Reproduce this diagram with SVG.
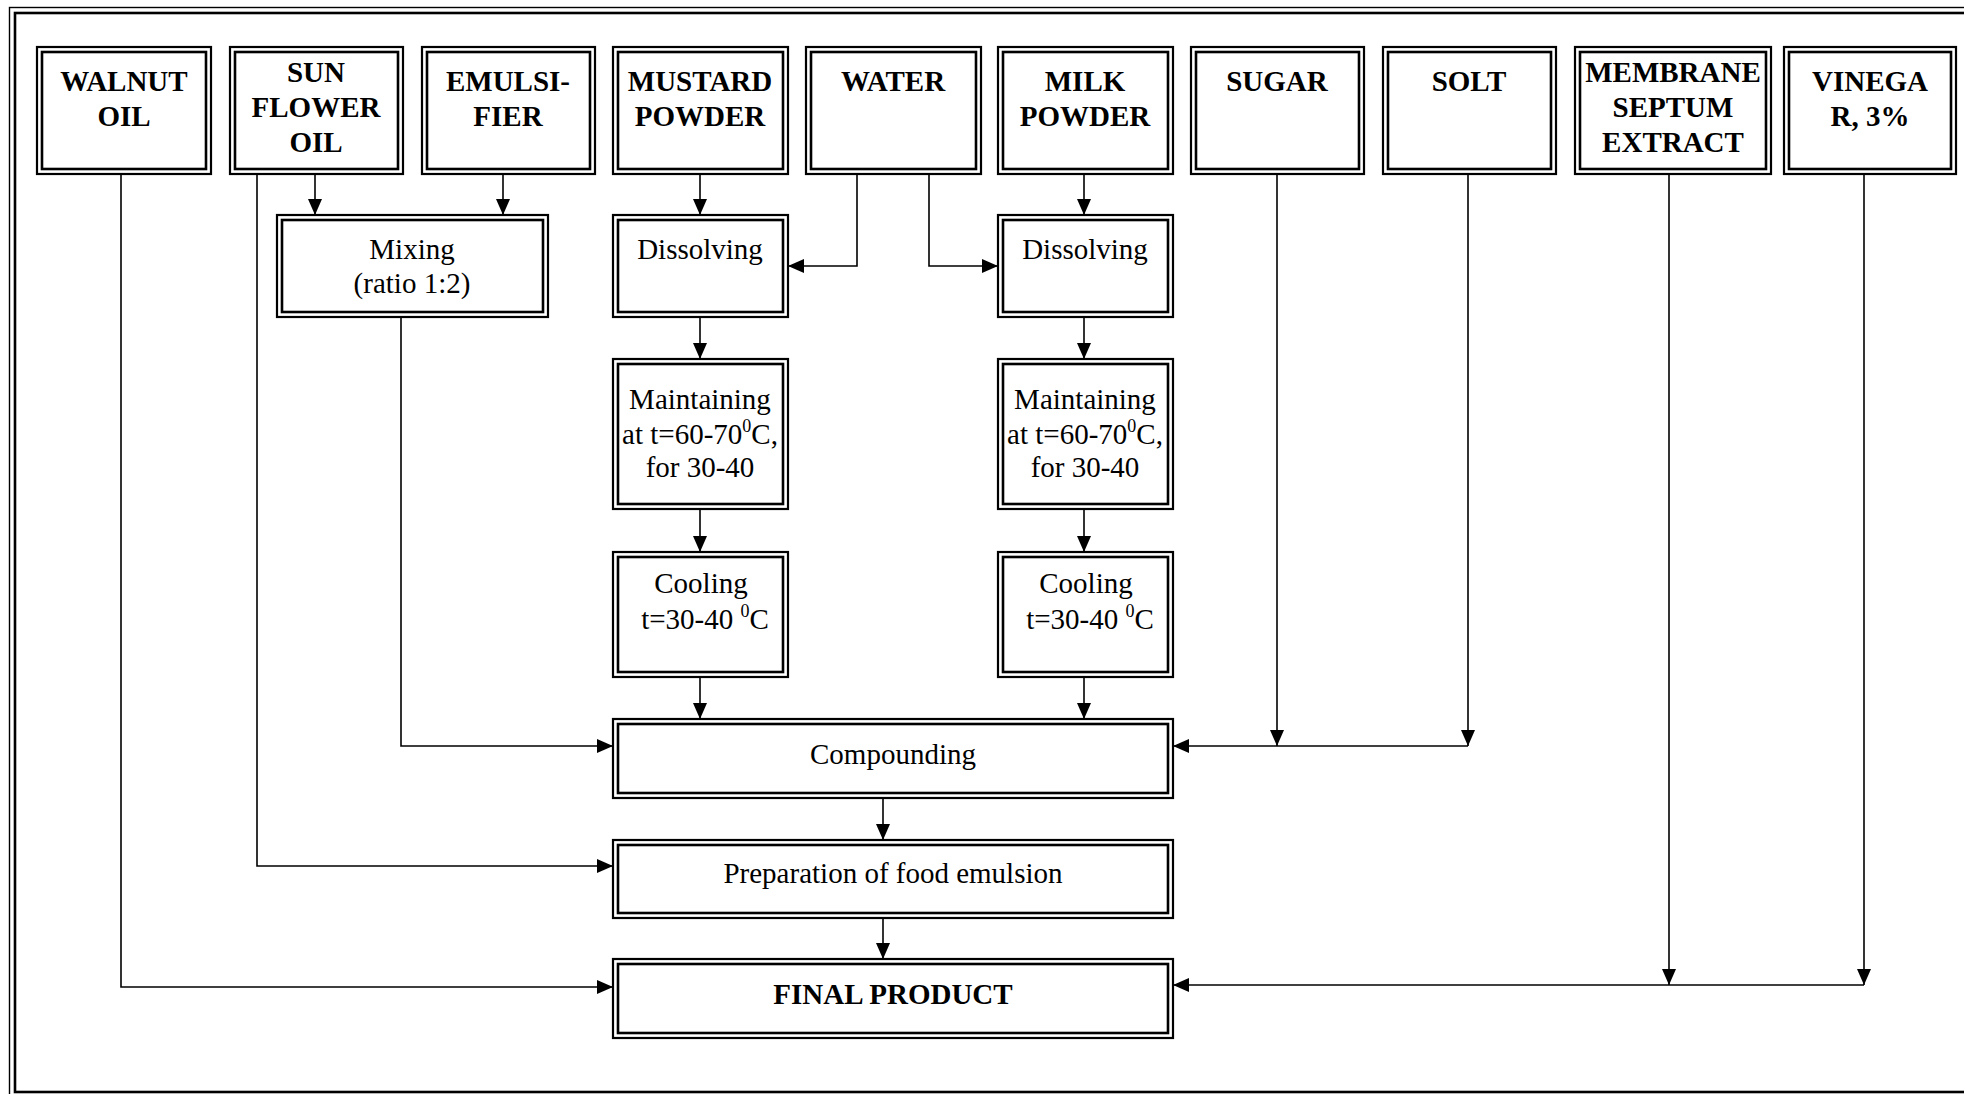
<svg xmlns="http://www.w3.org/2000/svg" width="1964" height="1094" viewBox="0 0 1964 1094">
<style>
.o{fill:#fff;stroke:#000;stroke-width:2.2}
.i{fill:none;stroke:#000;stroke-width:2.6}
.b{font-family:"Liberation Serif","Times New Roman",serif;font-weight:bold;font-size:29px;text-anchor:middle;fill:#000}
.r{font-family:"Liberation Serif","Times New Roman",serif;font-size:29px;text-anchor:middle;fill:#000}
.c{fill:none;stroke:#000;stroke-width:1.6}
.a{marker-end:url(#ah)}
</style>
<defs>
<marker id="ah" markerUnits="userSpaceOnUse" markerWidth="16" markerHeight="14" refX="16" refY="7" orient="auto">
<path d="M0,0 L16,7 L0,14 z" fill="#000"/>
</marker>
</defs>
<rect width="1964" height="1094" fill="#fff"/>
<g id="frame">
<rect x="9.5" y="7.5" width="2000" height="1100" fill="none" stroke="#000" stroke-width="1.4"/>
<rect x="15" y="13" width="2000" height="1079" fill="none" stroke="#000" stroke-width="2.6"/>
</g>
<g id="connectors">
<path class="c a" d="M121,174 V987 H613"/>
<path class="c a" d="M257,174 V866 H613"/>
<path class="c a" d="M315,174 V215"/>
<path class="c a" d="M503,174 V215"/>
<path class="c a" d="M401,317 V746 H613"/>
<path class="c a" d="M700,174 V215"/>
<path class="c a" d="M857,174 V266 H788"/>
<path class="c a" d="M929,174 V266 H998"/>
<path class="c a" d="M1084,174 V215"/>
<path class="c a" d="M700,317 V359"/>
<path class="c a" d="M1084,317 V359"/>
<path class="c a" d="M700,509 V552"/>
<path class="c a" d="M1084,509 V552"/>
<path class="c a" d="M700,677 V719"/>
<path class="c a" d="M1084,677 V719"/>
<path class="c a" d="M1277,174 V746"/>
<path class="c a" d="M1468,174 V746"/>
<path class="c a" d="M1468,746 H1173"/>
<path class="c a" d="M883,798 V840"/>
<path class="c a" d="M883,918 V959"/>
<path class="c a" d="M1669,174 V985"/>
<path class="c a" d="M1864,174 V985"/>
<path class="c a" d="M1864,985 H1173"/>
</g>
<g id="walnut">
<rect class="o" x="37" y="47" width="174" height="127"/><rect class="i" x="42" y="52" width="164" height="117"/>
<text class="b" x="124" y="91">WALNUT</text><text class="b" x="124" y="126">OIL</text>
</g>
<g id="sunflower">
<rect class="o" x="230" y="47" width="173" height="127"/><rect class="i" x="235" y="52" width="163" height="117"/>
<text class="b" x="316" y="82">SUN</text><text class="b" x="316" y="117">FLOWER</text><text class="b" x="316" y="152">OIL</text>
</g>
<g id="emulsifier">
<rect class="o" x="422" y="47" width="173" height="127"/><rect class="i" x="427" y="52" width="163" height="117"/>
<text class="b" x="508" y="91">EMULSI-</text><text class="b" x="508" y="126">FIER</text>
</g>
<g id="mustard">
<rect class="o" x="613" y="47" width="175" height="127"/><rect class="i" x="618" y="52" width="165" height="117"/>
<text class="b" x="700" y="91">MUSTARD</text><text class="b" x="700" y="126">POWDER</text>
</g>
<g id="water">
<rect class="o" x="806" y="47" width="175" height="127"/><rect class="i" x="811" y="52" width="165" height="117"/>
<text class="b" x="893" y="91">WATER</text>
</g>
<g id="milk">
<rect class="o" x="998" y="47" width="175" height="127"/><rect class="i" x="1003" y="52" width="165" height="117"/>
<text class="b" x="1085" y="91">MILK</text><text class="b" x="1085" y="126">POWDER</text>
</g>
<g id="sugar">
<rect class="o" x="1191" y="47" width="173" height="127"/><rect class="i" x="1196" y="52" width="163" height="117"/>
<text class="b" x="1277" y="91">SUGAR</text>
</g>
<g id="solt">
<rect class="o" x="1383" y="47" width="173" height="127"/><rect class="i" x="1388" y="52" width="163" height="117"/>
<text class="b" x="1469" y="91">SOLT</text>
</g>
<g id="membrane">
<rect class="o" x="1575" y="47" width="196" height="127"/><rect class="i" x="1580" y="52" width="186" height="117"/>
<text class="b" x="1673" y="82">MEMBRANE</text><text class="b" x="1673" y="117">SEPTUM</text><text class="b" x="1673" y="152">EXTRACT</text>
</g>
<g id="vinegar">
<rect class="o" x="1784" y="47" width="172" height="127"/><rect class="i" x="1789" y="52" width="162" height="117"/>
<text class="b" x="1870" y="91">VINEGA</text><text class="b" x="1870" y="126">R, 3%</text>
</g>
<g id="mixing">
<rect class="o" x="277" y="215" width="271" height="102"/><rect class="i" x="282" y="220" width="261" height="92"/>
<text class="r" x="412" y="259">Mixing</text><text class="r" x="412" y="293">(ratio 1:2)</text>
</g>
<g id="dissolving1">
<rect class="o" x="613" y="215" width="175" height="102"/><rect class="i" x="618" y="220" width="165" height="92"/>
<text class="r" x="700" y="259">Dissolving</text>
</g>
<g id="dissolving2">
<rect class="o" x="998" y="215" width="175" height="102"/><rect class="i" x="1003" y="220" width="165" height="92"/>
<text class="r" x="1085" y="259">Dissolving</text>
</g>
<g id="maintaining1">
<rect class="o" x="613" y="359" width="175" height="150"/><rect class="i" x="618" y="364" width="165" height="140"/>
<text class="r" x="700" y="409">Maintaining</text>
<text class="r" x="700" y="444">at t=60-70<tspan dy="-12" font-size="18">0</tspan><tspan dy="12">C,</tspan></text>
<text class="r" x="700" y="477">for 30-40</text>
</g>
<g id="maintaining2">
<rect class="o" x="998" y="359" width="175" height="150"/><rect class="i" x="1003" y="364" width="165" height="140"/>
<text class="r" x="1085" y="409">Maintaining</text>
<text class="r" x="1085" y="444">at t=60-70<tspan dy="-12" font-size="18">0</tspan><tspan dy="12">C,</tspan></text>
<text class="r" x="1085" y="477">for 30-40</text>
</g>
<g id="cooling1">
<rect class="o" x="613" y="552" width="175" height="125"/><rect class="i" x="618" y="557" width="165" height="115"/>
<text class="r" x="701" y="593">Cooling</text>
<text class="r" x="705" y="629">t=30-40 <tspan dy="-12" font-size="18">0</tspan><tspan dy="12">C</tspan></text>
</g>
<g id="cooling2">
<rect class="o" x="998" y="552" width="175" height="125"/><rect class="i" x="1003" y="557" width="165" height="115"/>
<text class="r" x="1086" y="593">Cooling</text>
<text class="r" x="1090" y="629">t=30-40 <tspan dy="-12" font-size="18">0</tspan><tspan dy="12">C</tspan></text>
</g>
<g id="compounding">
<rect class="o" x="613" y="719" width="560" height="79"/><rect class="i" x="618" y="724" width="550" height="69"/>
<text class="r" x="893" y="764">Compounding</text>
</g>
<g id="preparation">
<rect class="o" x="613" y="840" width="560" height="78"/><rect class="i" x="618" y="845" width="550" height="68"/>
<text class="r" x="893" y="883">Preparation of food emulsion</text>
</g>
<g id="final">
<rect class="o" x="613" y="959" width="560" height="79"/><rect class="i" x="618" y="964" width="550" height="69"/>
<text class="b" x="893" y="1004">FINAL PRODUCT</text>
</g>
</svg>
